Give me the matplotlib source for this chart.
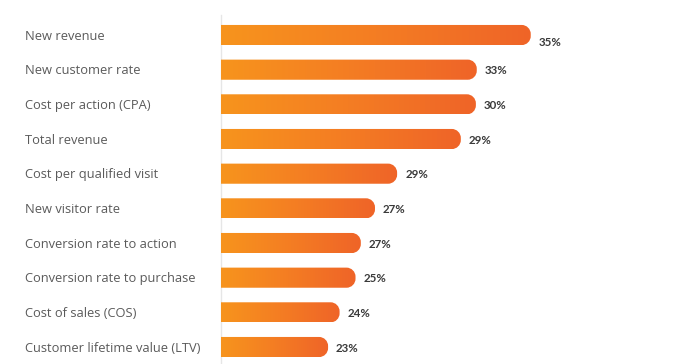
import numpy as np
import matplotlib
matplotlib.use("Agg")
import matplotlib.pyplot as plt
from matplotlib.path import Path
from matplotlib.patches import PathPatch
from matplotlib.colors import LinearSegmentedColormap

categories = ["New revenue", "New customer rate", "Cost per action (CPA)", "Total revenue",
              "Cost per qualified visit", "New visitor rate", "Conversion rate to action",
              "Conversion rate to purchase", "Cost of sales (COS)", "Customer lifetime value (LTV)"]
value_labels = ["35%", "33%", "30%", "29%", "29%", "27%", "27%", "25%", "24%", "23%"]
# drawn bar lengths as they appear in the chart (not proportional to the labels)
bar_len = [35.0, 28.9, 28.8, 27.1, 19.9, 17.4, 15.8, 15.2, 13.4, 12.1]

W, H = 675, 364
fig = plt.figure(figsize=(W / 100, H / 100), dpi=100)
ax_left = 221 / W
ax = fig.add_axes([ax_left, 0, 1 - ax_left, 1])
xmax = 51.3
ax.set_xlim(0, xmax)
ax.set_ylim(9.49, -1.01)
ax.axis("off")

px_x = (W * (1 - ax_left)) / xmax   # pixels per x unit
px_y = H / 10.5                      # pixels per y unit
bh = 0.58
r_px = 9
rx = r_px / px_x
ry = min(r_px / px_y, bh / 2)
k = 0.5523

cmap = LinearSegmentedColormap.from_list("og", ["#f7941d", "#f47d23", "#ef6428"])
grad = np.linspace(0, 1, 256).reshape(1, -1)

for i, L in enumerate(bar_len):
    y0, y1 = i - bh / 2, i + bh / 2
    verts = [(0, y0), (L - rx, y0),
             (L - rx + k * rx, y0), (L, y0 + ry - k * ry), (L, y0 + ry),
             (L, y1 - ry),
             (L, y1 - ry + k * ry), (L - rx + k * rx, y1), (L - rx, y1),
             (0, y1), (0, y0)]
    codes = [Path.MOVETO, Path.LINETO,
             Path.CURVE4, Path.CURVE4, Path.CURVE4,
             Path.LINETO,
             Path.CURVE4, Path.CURVE4, Path.CURVE4,
             Path.LINETO, Path.CLOSEPOLY]
    patch = PathPatch(Path(verts, codes), facecolor="none", edgecolor="none")
    ax.add_patch(patch)
    im = ax.imshow(grad, cmap=cmap, extent=(0, L, y1, y0), aspect="auto", zorder=2)
    im.set_clip_path(patch)
    ax.text(L + 8 / px_x, i + (0.22 if i == 0 else 0.03), value_labels[i], va="center", ha="left",
            fontsize=8.3, fontweight="bold", color="#3a3a3a", family="Lato")

ax.plot([0, 0], [9.49, -0.58], color="#e6e6e6", lw=1, zorder=1, clip_on=False)

for i, c in enumerate(categories):
    fig.text(25 / W, 1 - (36 + i * 34.67) / H, c, va="center", ha="left",
             fontsize=9.3, color="#5a5a5a", family="Open Sans")

ax.set_xlim(0, xmax)
ax.set_ylim(9.49, -1.01)
fig.savefig("out.png", dpi=100)
